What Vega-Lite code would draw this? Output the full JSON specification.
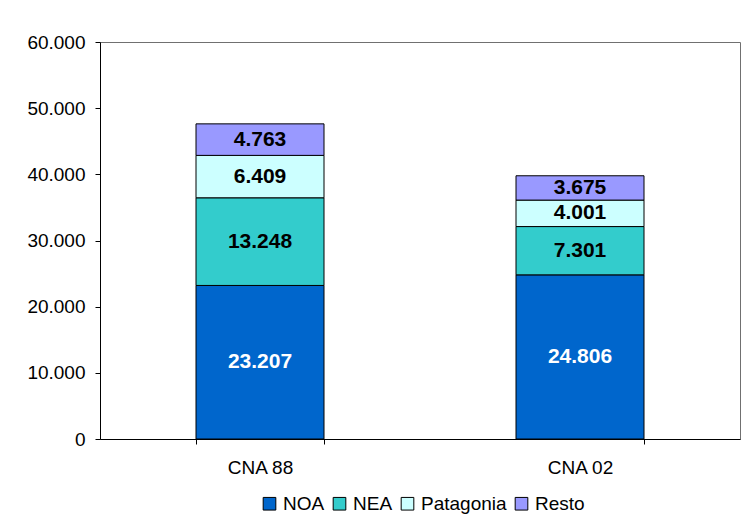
{
  "$schema": "https://vega.github.io/schema/vega-lite/v6.json",
  "width": 640,
  "height": 397,
  "autosize": "none",
  "padding": {"left": 100, "top": 42, "right": 5, "bottom": 86},
  "background": "white",
  "config": {
    "locale": {"number": {"decimal": ",", "thousands": ".", "grouping": [3], "currency": ["$", ""]}},
    "font": "Liberation Sans",
    "view": {"stroke": "#707070", "strokeWidth": 1},
    "axis": {"grid": false, "domainColor": "black", "tickColor": "black", "labelColor": "black", "labelFont": "Liberation Sans", "labelFontSize": 19}
  },
  "data": {
    "values": [
      {"censo": "CNA 88", "region": "NOA", "orden": 1, "valor": 23207},
      {"censo": "CNA 88", "region": "NEA", "orden": 2, "valor": 13248},
      {"censo": "CNA 88", "region": "Patagonia", "orden": 3, "valor": 6409},
      {"censo": "CNA 88", "region": "Resto", "orden": 4, "valor": 4763},
      {"censo": "CNA 02", "region": "NOA", "orden": 1, "valor": 24806},
      {"censo": "CNA 02", "region": "NEA", "orden": 2, "valor": 7301},
      {"censo": "CNA 02", "region": "Patagonia", "orden": 3, "valor": 4001},
      {"censo": "CNA 02", "region": "Resto", "orden": 4, "valor": 3675}
    ]
  },
  "transform": [
    {"stack": "valor", "groupby": ["censo"], "sort": [{"field": "orden", "order": "ascending"}], "as": ["v0", "v1"]},
    {"calculate": "(datum.v0 + datum.v1) / 2", "as": "vmid"}
  ],
  "encoding": {
    "x": {
      "field": "censo", "type": "nominal", "sort": ["CNA 88", "CNA 02"],
      "scale": {"paddingInner": 0.6, "paddingOuter": 0.3},
      "axis": {"title": null, "labelAngle": 0, "tickBand": "extent", "tickSize": 5, "labelPadding": 14}
    }
  },
  "layer": [
    {
      "mark": {"type": "bar", "stroke": "black", "strokeWidth": 1},
      "encoding": {
        "y": {
          "field": "v0", "type": "quantitative",
          "scale": {"domain": [0, 60000]},
          "axis": {"title": null, "values": [0, 10000, 20000, 30000, 40000, 50000, 60000], "format": ",d", "tickSize": 5, "labelPadding": 10}
        },
        "y2": {"field": "v1"},
        "color": {
          "field": "region", "type": "nominal",
          "sort": ["NOA", "NEA", "Patagonia", "Resto"],
          "scale": {"domain": ["NOA", "NEA", "Patagonia", "Resto"], "range": ["#0066CC", "#33CCCC", "#CCFFFF", "#9999FF"]},
          "legend": {
            "title": null, "orient": "none", "direction": "horizontal",
            "legendX": 160, "legendY": 452,
            "symbolType": "square", "symbolSize": 160, "symbolStrokeColor": "black", "symbolStrokeWidth": 1,
            "labelFontSize": 19, "labelColor": "black", "labelOffset": 4, "columnPadding": 5
          }
        }
      }
    },
    {
      "mark": {"type": "text", "fontWeight": "bold", "fontSize": 21, "baseline": "middle", "align": "center"},
      "encoding": {
        "y": {"field": "vmid", "type": "quantitative"},
        "text": {"field": "valor", "type": "quantitative", "format": ",d"},
        "color": {
          "condition": {"test": "datum.region === 'NOA'", "value": "white"},
          "value": "black"
        }
      }
    }
  ]
}
